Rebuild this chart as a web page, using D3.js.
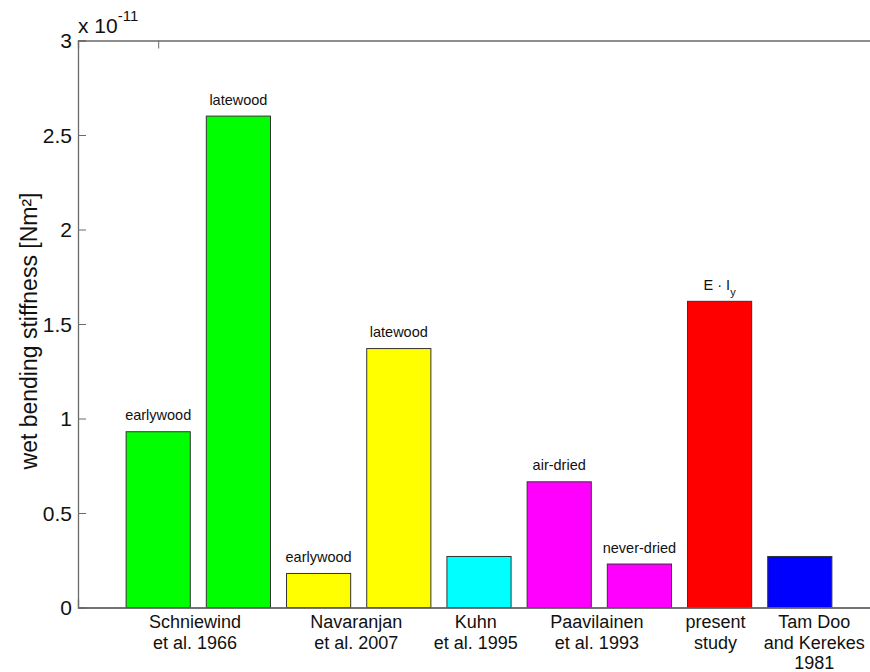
<!DOCTYPE html>
<html>
<head>
<meta charset="utf-8">
<script src="https://cdn.jsdelivr.net/npm/d3@7"></script>
<style>
  html, body { margin: 0; padding: 0; background: #fff; }
  svg { display: block; font-family: Arial, "Liberation Sans", sans-serif; }
</style>
</head>
<body>
<svg id="chart" width="870" height="672"></svg>
<script>
// ---- data ----
const barPositions = [1, 2, 3, 4, 5, 6, 7, 8, 9];
const barValues = [0.93, 2.60, 0.18, 1.37, 0.27, 0.665, 0.23, 1.62, 0.27];
const barColors = ["#00ff00", "#00ff00", "#ffff00", "#ffff00", "#00ffff", "#ff00ff", "#ff00ff", "#ff0000", "#0000ff"];
const barNotes = ["earlywood", "latewood", "earlywood", "latewood", "", "air-dried", "never-dried", "E · I|y", ""];
const groupLabels = [["Schniewind", "et al. 1966"], ["Navaranjan", "et al. 2007"], ["Kuhn", "et al. 1995"], ["Paavilainen", "et al. 1993"], ["present", "study"], ["Tam Doo", "and Kerekes", "1981"]];
const groupLabelPos = [1.46, 3.47, 4.96, 6.47, 7.95, 9.18];
const yTicks = [0, 0.5, 1, 1.5, 2, 2.5, 3];
const yTickLabels = ["0", "0.5", "1", "1.5", "2", "2.5", "3"];
const xTicks = [1];

// ---- layout ----
const svg = d3.select("#chart");
const mLeft = 78, mTop = 40.5, mBottom = 607.5, mRight = 880;
const x = d3.scaleLinear().domain([0, 10]).range([mLeft, mRight]);
const y = d3.scaleLinear().domain([0, 3]).range([mBottom, mTop]);
const barW = x(0.8) - x(0);
const axisColor = "#6a6a6a";

// bottom tick drawn first so bars cover it
const gB = svg.append("g").attr("transform", `translate(0,${mBottom})`)
  .call(d3.axisTop(x).tickValues(xTicks).tickSize(8).tickFormat(""));

// bars
svg.append("g").selectAll("rect").data(barValues).join("rect")
  .attr("x", (d, i) => x(barPositions[i]) - barW / 2)
  .attr("y", d => y(d))
  .attr("width", barW)
  .attr("height", d => y(0) - y(d))
  .attr("fill", (d, i) => barColors[i])
  .attr("stroke", "#333")
  .attr("stroke-width", 1);

const gL = svg.append("g").attr("transform", `translate(${mLeft},0)`)
  .call(d3.axisRight(y).tickValues(yTicks).tickSize(8).tickFormat(""));
const gT = svg.append("g").attr("transform", `translate(0,${mTop})`)
  .call(d3.axisBottom(x).tickValues(xTicks).tickSize(8).tickFormat(""));
const gB2 = svg.append("g").attr("transform", `translate(0,${mBottom})`)
  .call(d3.axisTop(x).tickValues([]).tickSize(0));
[gL, gT, gB, gB2].forEach(g => {
  g.selectAll("path.domain").attr("stroke", axisColor).attr("stroke-width", 1.3);
  g.selectAll(".tick line").attr("stroke", axisColor).attr("stroke-width", 1);
});

// y tick labels
svg.append("g").selectAll("text").data(yTicks).join("text")
  .attr("x", mLeft - 6)
  .attr("y", d => y(d))
  .attr("dy", "0.36em")
  .attr("text-anchor", "end")
  .attr("font-size", 21)
  .attr("fill", "#111")
  .text((d, i) => yTickLabels[i]);

// exponent
const ex = svg.append("text").attr("x", mLeft).attr("y", 33).attr("font-size", 21).attr("fill", "#111");
ex.append("tspan").text("x 10");
ex.append("tspan").attr("dy", -12).attr("font-size", 15).text("-11");

// y label
svg.append("text")
  .attr("transform", `translate(37,331) rotate(-90)`)
  .attr("text-anchor", "middle")
  .attr("font-size", 23)
  .attr("fill", "#111")
  .text("wet bending stiffness [Nm²]");

// bar notes
const notes = svg.append("g").selectAll("text").data(barNotes).join("text")
  .attr("x", (d, i) => x(barPositions[i]))
  .attr("y", (d, i) => y(barValues[i]) - 11.5)
  .attr("text-anchor", "middle")
  .attr("font-size", 14.5)
  .attr("fill", "#111");
notes.each(function (d) {
  const parts = d.split("|");
  const t = d3.select(this);
  t.append("tspan").text(parts[0]);
  if (parts[1]) t.append("tspan").attr("dy", 6).attr("font-size", 11).text(parts[1]);
});

// group labels
const gl = svg.append("g").selectAll("text").data(groupLabels).join("text")
  .attr("x", (d, i) => x(groupLabelPos[i]))
  .attr("y", 628)
  .attr("text-anchor", "middle")
  .attr("font-size", 18)
  .attr("fill", "#111");
gl.each(function (lines, i) {
  const t = d3.select(this);
  lines.forEach((line, j) => {
    t.append("tspan").attr("x", x(groupLabelPos[i])).attr("dy", j === 0 ? 0 : 20.5).text(line);
  });
});
</script>
</body>
</html>
